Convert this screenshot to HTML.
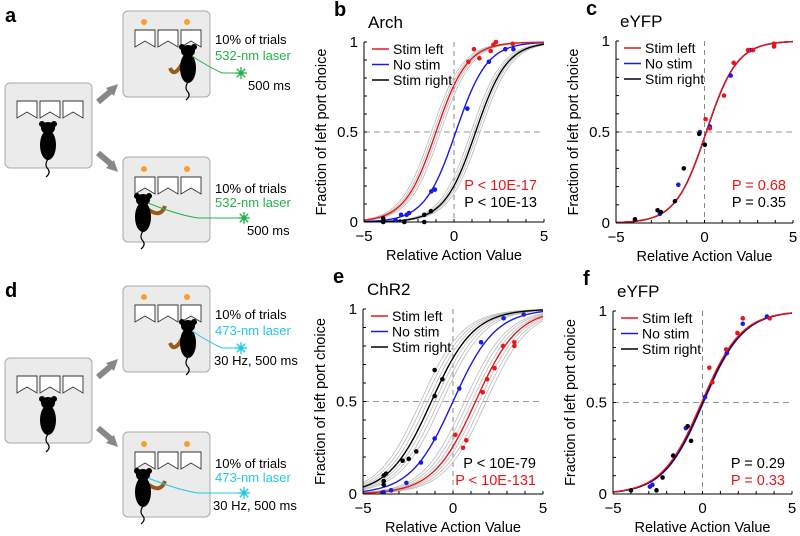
<!DOCTYPE html>
<html><head><meta charset="utf-8">
<style>
html,body{margin:0;padding:0;background:#fff;}
svg{display:block;font-family:"Liberation Sans",Arial,sans-serif;}
</style></head>
<body>
<svg id="fig" width="800" height="536" viewBox="0 0 800 536" xmlns="http://www.w3.org/2000/svg"></svg>
<script>
// ---------- DATA ----------
const xTicks = [-5, 0, 5];
const yTicks = [0, 0.5, 1];
const yTickLabels = ["0", "0.5", "1"];
const legendLabels = ["Stim left", "No stim", "Stim right"];
// panel b (Arch)
const bCenters = [-1.0, 0.1, 1.2];
const bSlope = 1.15;
const bGreyOffsets = [-0.25, -0.12, 0.12, 0.25];
const bRedX = [0.8, 1.11, 1.41, 2.04, 2.19, 2.33, 3.26];
const bRedY = [0.89, 0.96, 0.91, 0.95, 0.985, 1.0, 0.99];
const bBlueX = [-3.24, -2.94, -2.63, -2.5, -1.26, -1.06, 0.74, 1.94, 2.85, 3.3];
const bBlueY = [0.01, 0.04, 0.04, 0.05, 0.17, 0.18, 0.63, 0.89, 0.96, 0.96];
const bBlackX = [-3.93, -3.93, -2.76, -1.65, -1.65, -1.28];
const bBlackY = [0.02, 0.0, 0.0, 0.0, 0.04, 0.06];
// panel c (eYFP)
const cCenters = [0.1, 0.1, 0.1];
const cSlope = 1.15;
const cRedX = [0.06, 0.3, 1.1, 1.65, 2.46, 2.74, 3.93, 3.93];
const cRedY = [0.57, 0.52, 0.70, 0.88, 0.95, 0.95, 0.985, 0.97];
const cBlueX = [-2.52, -1.48, -0.26, 0.3, 1.48, 2.59];
const cBlueY = [0.05, 0.21, 0.50, 0.53, 0.81, 0.95];
const cBlackX = [-3.93, -2.65, -2.46, -1.67, -1.17, -0.3, 0.02];
const cBlackY = [0.02, 0.07, 0.06, 0.12, 0.30, 0.49, 0.43];
// panel e (ChR2)
const eCenters = [1.25, 0.0, -1.2];
const eSlope = 0.85;
const eGreyOffsets = [-0.6, -0.4, -0.2, 0.2, 0.4, 0.6];
const eRedX = [0.13, 0.56, 0.74, 1.65, 1.89, 2.31, 2.78, 3.41, 3.41];
const eRedY = [0.32, 0.25, 0.29, 0.55, 0.62, 0.68, 0.80, 0.82, 0.80];
const eBlueX = [-3.85, -3.44, -2.59, -1.78, -1.02, 0.35, 1.56, 2.81, 3.93];
const eBlueY = [0.01, 0.02, 0.06, 0.17, 0.30, 0.57, 0.82, 0.95, 0.97];
const eBlackX = [-3.85, -3.72, -3.85, -3.85, -2.8, -2.46, -2.04, -1.02, -1.02, -0.59];
const eBlackY = [0.10, 0.11, 0.07, 0.05, 0.18, 0.19, 0.23, 0.53, 0.67, 0.62];
// panel f (eYFP)
const fCenters = [-0.05, 0.05, 0.0];
const fSlope = 0.9;
const fRedX = [0.38, 0.55, 1.32, 1.95, 2.25, 3.75];
const fRedY = [0.69, 0.61, 0.79, 0.88, 0.96, 0.96];
const fBlueX = [-2.94, -2.8, -0.93, 0.14, 1.36, 2.25, 3.6];
const fBlueY = [0.04, 0.05, 0.36, 0.53, 0.77, 0.93, 0.97];
const fBlackX = [-4.0, -2.57, -2.23, -1.64, -0.83, -0.64];
const fBlackY = [0.02, 0.02, 0.09, 0.21, 0.37, 0.29];

const NS = "http://www.w3.org/2000/svg";
const svg = document.getElementById("fig");
function mk(tag, attrs, parent) {
  const e = document.createElementNS(NS, tag);
  for (const k in attrs) e.setAttribute(k, attrs[k]);
  (parent || svg).appendChild(e);
  return e;
}
function txt(s, attrs, parent) { const t = mk("text", attrs, parent); t.textContent = s; return t; }

const RED = "#e8161b", BLUE = "#1a1ae6", BLACK = "#000";

// ---------- SCHEMATIC ----------
function port(g, x, y) {
  mk("path", {d:`M${x},${y} h20 v17 l-10,-6 l-10,6 z`, fill:"#fff", stroke:"#333", "stroke-width":0.9}, g);
}
function portsRow(g, x, y) { port(g, x, y); port(g, x+23, y); port(g, x+46, y); }
function mouse(g, cx, cy) {
  mk("ellipse", {cx:cx, cy:cy+17, rx:8, ry:15, fill:"#000"}, g);
  mk("ellipse", {cx:cx, cy:cy, rx:7, ry:6, fill:"#000"}, g);
  mk("circle", {cx:cx-6, cy:cy-4, r:3, fill:"#000"}, g);
  mk("circle", {cx:cx+6, cy:cy-4, r:3, fill:"#000"}, g);
  mk("path", {d:`M${cx},${cy+31} q-4,6 0,10 q3,4 -2,8`, fill:"none", stroke:"#000", "stroke-width":1.2}, g);
}
function star(g, x, y, c) {
  for (let i=0;i<8;i++){const a=i*Math.PI/4; mk("line",{x1:x,y1:y,x2:x+6*Math.cos(a),y2:y+6*Math.sin(a),stroke:c,"stroke-width":1.3},g);}
  mk("circle",{cx:x,cy:y,r:2.5,fill:c},g);
}
function scheme(off, color, wave, dur, durX, label, name) {
  const g = mk("g", {transform:`translate(0,${off})`});
  
  
  txt(label, {x:5, y:22, "font-size":20, "font-weight":"bold"}, g);
  // middle box
  mk("rect", {x:5, y:83, width:87, height:85, rx:5, fill:"#ebebeb", stroke:"#aaa"}, g);
  portsRow(g, 17, 101); mouse(g, 48, 128);
  // arrows
  mk("path", {d:"M97,103 L110,92 L106,88 L118,84 L114,96 L110,92 Z", fill:"#888"}, g);
  mk("line", {x1:98, y1:102, x2:111, y2:91, stroke:"#888", "stroke-width":6}, g);
  mk("line", {x1:98, y1:153, x2:111, y2:164, stroke:"#888", "stroke-width":6}, g);
  mk("path", {d:"M106,168 L118,172 L114,160 Z", fill:"#888"}, g);
  // top box
  mk("rect", {x:123, y:11, width:87, height:86, rx:5, fill:"#ebebeb", stroke:"#aaa"}, g);
  portsRow(g, 135, 30);
  mk("circle", {cx:144, cy:22, r:3, fill:"#f5a030"}, g);
  mk("circle", {cx:187, cy:22, r:3, fill:"#f5a030"}, g);
  mk("path", {d:"M170,68 q4,10 12,-4", fill:"none", stroke:"#9a5a1a", "stroke-width":4}, g);
  mouse(g, 188, 51);
  mk("path", {d:"M192,56 q15,10 30,17 L238,73", fill:"none", stroke:color, "stroke-width":1}, g);
  star(g, 241, 73, color);
  txt("10% of trials", {x:215, y:44, "font-size":13}, g);
  txt(wave, {x:215, y:60, "font-size":13, fill:color}, g);
  txt(dur, {x:durX, y:90, "font-size":13}, g);
  // bottom box
  mk("rect", {x:123, y:157, width:87, height:85, rx:5, fill:"#ebebeb", stroke:"#aaa"}, g);
  portsRow(g, 135, 177);
  mk("circle", {cx:144, cy:169, r:3, fill:"#f5a030"}, g);
  mk("circle", {cx:187, cy:169, r:3, fill:"#f5a030"}, g);
  mk("path", {d:"M165,206 q-4,12 -16,4", fill:"none", stroke:"#9a5a1a", "stroke-width":4}, g);
  mouse(g, 143, 200);
  mk("path", {d:"M148,203 q30,12 50,15 L240,218", fill:"none", stroke:color, "stroke-width":1}, g);
  star(g, 244, 218, color);
  txt("10% of trials", {x:215, y:193, "font-size":13}, g);
  txt(wave, {x:215, y:207, "font-size":13, fill:color}, g);
  txt(dur, {x:durX-1, y:235, "font-size":13}, g);
}
scheme(0, "#22b34a", "532-nm laser", "500 ms", 248, "a", "schematic-arch");
scheme(275, "#22c8e8", "473-nm laser", "30 Hz, 500 ms", 214, "d", "schematic-chr2");

// ---------- CHARTS ----------
function sig(x, c, k) { return 1/(1+Math.exp(-k*(x-c))); }
function panel(cfg) {
  const g = mk("g", {});
  
  
  const X = v => cfg.x0 + (v+5)/10*(cfg.x1-cfg.x0);
  const Y = v => cfg.y0 - v*(cfg.y0-cfg.y1);
  txt(cfg.letter, {x:cfg.x0-30, y:cfg.y1-26, "font-size":20, "font-weight":"bold"}, g);
  const tt = txt(cfg.title, {x:cfg.x0+4, y:cfg.y1-14, "font-size":17}, g);
  
  // dashed guides
  mk("line", {x1:X(0), y1:cfg.y1, x2:X(0), y2:cfg.y0, stroke:"#888", "stroke-dasharray":"5,4", "stroke-width":1}, g);
  mk("line", {x1:cfg.x0, y1:Y(0.5), x2:cfg.x1, y2:Y(0.5), stroke:"#999", "stroke-dasharray":"6,4", "stroke-width":1}, g);
  // curves
  function curve(c, k, color, w) {
    let d = "";
    for (let i=0;i<=100;i++){const x=-5+i*0.1; d += (i?"L":"M")+X(x).toFixed(1)+","+Y(sig(x,c,k)).toFixed(1);}
    const p = mk("path", {d:d, fill:"none", stroke:color, "stroke-width":w}, g);
    return p;
  }
  if (cfg.grey) {
    [0,2].forEach(i => cfg.grey.forEach(o => {
      const p = curve(cfg.centers[i]+o, cfg.slope, "#bbb", 0.8);
      
    }));
  }
  const colors = cfg.order;
  const idx = cfg.drawOrder || [1,2,0];
  idx.forEach(i => {
    const p = curve(cfg.centers[i], cfg.slope, [RED,BLUE,BLACK][i], i===cfg.thinIdx?1:1.4);
    
    
  });
  // points
  [[cfg.bx,cfg.by,BLUE],[cfg.kx,cfg.ky,BLACK],[cfg.rx,cfg.ry,RED]].forEach(s => {
    s[0].forEach((v,j) => {
      const c = mk("circle", {cx:X(v), cy:Y(s[1][j]), r:2.3, fill:s[2]}, g);
      
      
    });
  });
  // axes
  mk("line", {x1:cfg.x0, y1:cfg.y1, x2:cfg.x0, y2:cfg.y0, stroke:"#000", "stroke-width":1}, g);
  mk("line", {x1:cfg.x0, y1:cfg.y0, x2:cfg.x1, y2:cfg.y0, stroke:"#000", "stroke-width":1}, g);
  for (let v=-5; v<=5; v++) mk("line", {x1:X(v), y1:cfg.y0, x2:X(v), y2:cfg.y0-3, stroke:"#000"}, g);
  for (let v=0; v<=10; v++) mk("line", {x1:cfg.x0, y1:Y(v/10), x2:cfg.x0+3, y2:Y(v/10), stroke:"#000"}, g);
  xTicks.forEach(v => { const t = txt(v<0?"\u2212"+(-v):String(v), {x:X(v), y:cfg.y0+19, "font-size":15, "text-anchor":"middle"}, g);  });
  yTicks.forEach((v,j) => { const t = txt(yTickLabels[j], {x:cfg.x0-6, y:Y(v)+5, "font-size":15, "text-anchor":"end"}, g);  });
  const xl = txt("Relative Action Value", {x:(cfg.x0+cfg.x1)/2, y:cfg.y0+38, "font-size":14.5, "text-anchor":"middle"}, g);
  
  const ym = (cfg.y0+cfg.y1)/2, yx = cfg.x0-38;
  const yl = txt("Fraction of left port choice", {x:yx, y:ym, "font-size":14.5, "text-anchor":"middle", transform:`rotate(-90 ${yx} ${ym})`}, g);
  
  // legend
  legendLabels.forEach((l,j) => {
    const ly = cfg.y1 + 7 + j*15.5;
    const lg = mk("g", {}, g);
    
    
    mk("line", {x1:cfg.x0+8, y1:ly, x2:cfg.x0+25, y2:ly, stroke:[RED,BLUE,BLACK][j], "stroke-width":1.4}, lg);
    txt(l, {x:cfg.x0+29, y:ly+5, "font-size":14}, lg);
  });
  // p-values
  cfg.pvals.forEach((p,j) => {
    const t = txt(p[0], {x:cfg.x1-7, y:cfg.pY + j*17, "font-size":14.5, "text-anchor":"end", fill:p[1]}, g);
    
  });
}
panel({name:"panel-b-arch", letter:"b", title:"Arch", x0:364, x1:544, y0:222, y1:42,
  centers:bCenters, slope:bSlope, grey:bGreyOffsets,
  rx:bRedX, ry:bRedY, bx:bBlueX, by:bBlueY, kx:bBlackX, ky:bBlackY,
  pvals:[["P < 10E-17",RED],["P < 10E-13",BLACK]], pY:190});
panel({name:"panel-c-eyfp", letter:"c", title:"eYFP", x0:616, x1:793, y0:223, y1:41,
  centers:cCenters, slope:cSlope, drawOrder:[1,2,0], thinIdx:null,
  rx:cRedX, ry:cRedY, bx:cBlueX, by:cBlueY, kx:cBlackX, ky:cBlackY,
  pvals:[["P = 0.68",RED],["P = 0.35",BLACK]], pY:190});
panel({name:"panel-e-chr2", letter:"e", title:"ChR2", x0:363, x1:543, y0:494, y1:309,
  centers:eCenters, slope:eSlope, grey:eGreyOffsets,
  rx:eRedX, ry:eRedY, bx:eBlueX, by:eBlueY, kx:eBlackX, ky:eBlackY,
  pvals:[["P < 10E-79",BLACK],["P < 10E-131",RED]], pY:468});
panel({name:"panel-f-eyfp", letter:"f", title:"eYFP", x0:613, x1:792, y0:494, y1:311,
  centers:fCenters, slope:fSlope,
  rx:fRedX, ry:fRedY, bx:fBlueX, by:fBlueY, kx:fBlackX, ky:fBlackY,
  pvals:[["P = 0.29",BLACK],["P = 0.33",RED]], pY:468});
</script>
</body></html>
